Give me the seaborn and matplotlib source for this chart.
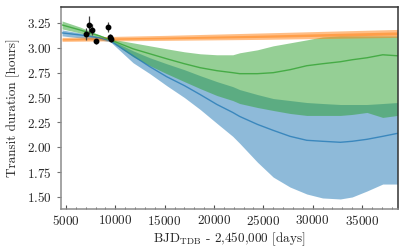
import numpy as np
import pandas as pd
import seaborn as sns
import matplotlib
matplotlib.use("Agg")
import matplotlib.pyplot as plt
from matplotlib.ticker import MultipleLocator

# model grid (BJD_TDB - 2,450,000)
days = [4600, 6400, 8400, 9500, 11800, 13500, 15200, 17000, 18600, 20300,
        21900, 22600, 24400, 26000, 27700, 29400, 31000, 32800, 34000,
        35500, 37100, 38600]

green_hi = [3.27, 3.21, 3.13, 3.09, 3.05, 3.02, 2.99, 2.96, 2.94, 2.93,
            2.93, 2.95, 2.98, 3.02, 3.05, 3.08, 3.11, 3.12, 3.12,
            3.12, 3.12, 3.12]
green_med = [3.23, 3.18, 3.12, 3.08, 2.99, 2.94, 2.89, 2.84, 2.80, 2.77,
             2.75, 2.74, 2.74, 2.75, 2.78, 2.82, 2.84, 2.86, 2.88,
             2.90, 2.93, 2.92]
green_lo = [3.19, 3.15, 3.10, 3.07, 2.91, 2.82, 2.74, 2.66, 2.59, 2.52,
            2.47, 2.44, 2.40, 2.37, 2.34, 2.32, 2.32, 2.32, 2.33,
            2.35, 2.30, 2.32]

blue_hi = [3.18, 3.15, 3.11, 3.08, 2.97, 2.90, 2.84, 2.78, 2.72, 2.66,
           2.61, 2.58, 2.53, 2.49, 2.47, 2.45, 2.44, 2.43, 2.43,
           2.43, 2.44, 2.45]
blue_med = [3.15, 3.13, 3.10, 3.07, 2.92, 2.81, 2.71, 2.62, 2.53, 2.43,
            2.35, 2.31, 2.23, 2.17, 2.11, 2.07, 2.06, 2.05, 2.06,
            2.08, 2.11, 2.14]
blue_lo = [3.12, 3.10, 3.08, 3.06, 2.85, 2.74, 2.62, 2.50, 2.38, 2.24,
           2.11, 2.04, 1.85, 1.70, 1.60, 1.53, 1.49, 1.48, 1.50,
           1.56, 1.63, 1.63]

# constant-duration model
orange_days = [4600, 15000, 25000, 38600]
orange_lo = [3.065, 3.075, 3.085, 3.105]
orange_hi = [3.105, 3.125, 3.150, 3.185]
orange_in_lo = [3.078, 3.090, 3.105, 3.130]
orange_in_hi = [3.092, 3.108, 3.128, 3.160]

# observed transit durations
obs_days = [7027, 7331, 7665, 8040, 9226, 9459, 9530]
obs_dur = [3.143, 3.227, 3.184, 3.068, 3.21, 3.109, 3.092]
obs_err = [0.06, 0.09, 0.06, 0.025, 0.05, 0.035, 0.03]

sns.set_style("ticks")
plt.rcParams["font.family"] = "serif"
plt.rcParams["font.serif"] = ["cmr10"]
plt.rcParams["mathtext.fontset"] = "cm"
plt.rcParams["axes.formatter.use_mathtext"] = True
plt.rcParams["font.size"] = 9.5

pal = sns.color_palette("tab10")
blue, orange, green = pal[0], pal[1], pal[2]

fig = plt.figure(figsize=(4.07, 2.52), dpi=100)
ax = fig.add_axes([0.150, 0.171, 0.828, 0.801])

ax.fill_between(days, blue_lo, blue_hi, color=blue, alpha=0.5, lw=0)
ax.fill_between(days, green_lo, green_hi, color=green, alpha=0.5, lw=0)

df = pd.DataFrame({"day": days * 2,
                   "dur": blue_med + green_med,
                   "model": ["blue"] * len(days) + ["green"] * len(days)})
sns.lineplot(data=df, x="day", y="dur", hue="model",
             palette={"blue": blue, "green": green}, lw=1, alpha=0.75,
             legend=False, ax=ax)

ax.fill_between(orange_days, orange_lo, orange_hi, color=orange, alpha=0.5, lw=0)
ax.fill_between(orange_days, orange_in_lo, orange_in_hi, color=orange, alpha=0.5, lw=0)

ax.errorbar(obs_days, obs_dur, yerr=obs_err, fmt="o", color="k", ms=3.2,
            elinewidth=0.9, ecolor="0.25", capsize=0, zorder=10)

ax.set_xlim(4500, 38650)
ax.set_ylim(1.38, 3.41)
ax.set_yticks([1.50, 1.75, 2.00, 2.25, 2.50, 2.75, 3.00, 3.25])
ax.xaxis.set_major_locator(MultipleLocator(5000))
ax.xaxis.set_minor_locator(MultipleLocator(1000))
ax.tick_params(axis="x", which="major", direction="in", length=3, width=0.8, color="0.3")
ax.tick_params(axis="x", which="minor", direction="in", length=1.8, width=0.6, color="0.3")
ax.tick_params(axis="y", direction="out", length=3, width=0.8, color="0.45")

for side in ["left", "bottom"]:
    ax.spines[side].set_color("0.55")
    ax.spines[side].set_linewidth(1.1)
for side in ["top", "right"]:
    ax.spines[side].set_visible(True)
    ax.spines[side].set_color("0.2")
    ax.spines[side].set_linewidth(1.1)

ax.set_xlabel(r"BJD$_{\rm TDB}$ - 2,450,000 [days]", labelpad=2)
ax.set_ylabel("Transit duration [hours]", labelpad=5)

fig.savefig("out.png", dpi=100)
